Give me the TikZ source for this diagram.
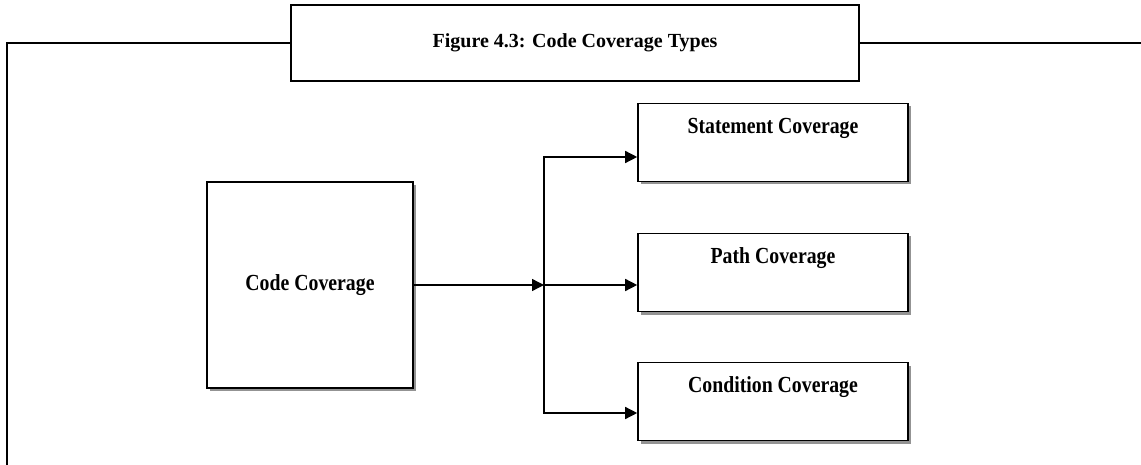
\documentclass[tikz,border=0pt]{standalone}
\usepackage{fontspec}
\setmainfont{Liberation Serif}
\newfontfamily\narrowfont[FakeStretch=0.86]{Liberation Serif}
\usepackage{tikz}
\usetikzlibrary{arrows.meta,shadows}

\begin{document}
\begin{tikzpicture}[x=1pt, y=-1pt]
	\tikzstyle{titlebox} = [draw, line width=2pt, fill=white, minimum width=568pt, minimum height=76pt, font=\fontsize{20}{24}\selectfont\bfseries]
	\tikzstyle{typebox} = [draw, line width=1.6pt, fill=white, drop shadow={shadow xshift=3pt, shadow yshift=-3pt, fill=gray!85, opacity=1}, font=\fontsize{23}{27}\selectfont\narrowfont\bfseries]
	\tikzstyle{link} = [line width=1.4pt, -{Triangle[length=12pt, width=12pt]}]
	\useasboundingbox (0,0) rectangle (1141,465);
	\node[titlebox] (Title) at (575,43) {Figure 4.3: Code Coverage Types};
	\draw[line width=2pt] (7,465) -- (7,43) -- (Title.west);
	\draw[line width=2pt] (Title.east) -- (1141,43);
	\node[typebox, minimum width=206pt, minimum height=206pt] (Code) at (310,285) {Code Coverage};
	\node[typebox, minimum width=270pt, minimum height=78pt, text height=12pt, text depth=30pt] (Statement) at (773,142.5) {Statement Coverage};
	\node[typebox, minimum width=270pt, minimum height=78pt, text height=12pt, text depth=30pt] (Path) at (773,272.5) {Path Coverage};
	\node[typebox, minimum width=270pt, minimum height=78pt, text height=12pt, text depth=30pt] (Condition) at (773,401.5) {Condition Coverage};
	\coordinate (Fork) at (544,285);
	\draw[link] (Code.east) -- (Fork);
	\draw[link] (Fork) -- ([yshift=-12.5pt]Path.west);
	\draw[link] (Fork) |- ([yshift=-14.5pt]Statement.west);
	\draw[link] (Fork) |- ([yshift=-11.5pt]Condition.west);
\end{tikzpicture}
\end{document}
